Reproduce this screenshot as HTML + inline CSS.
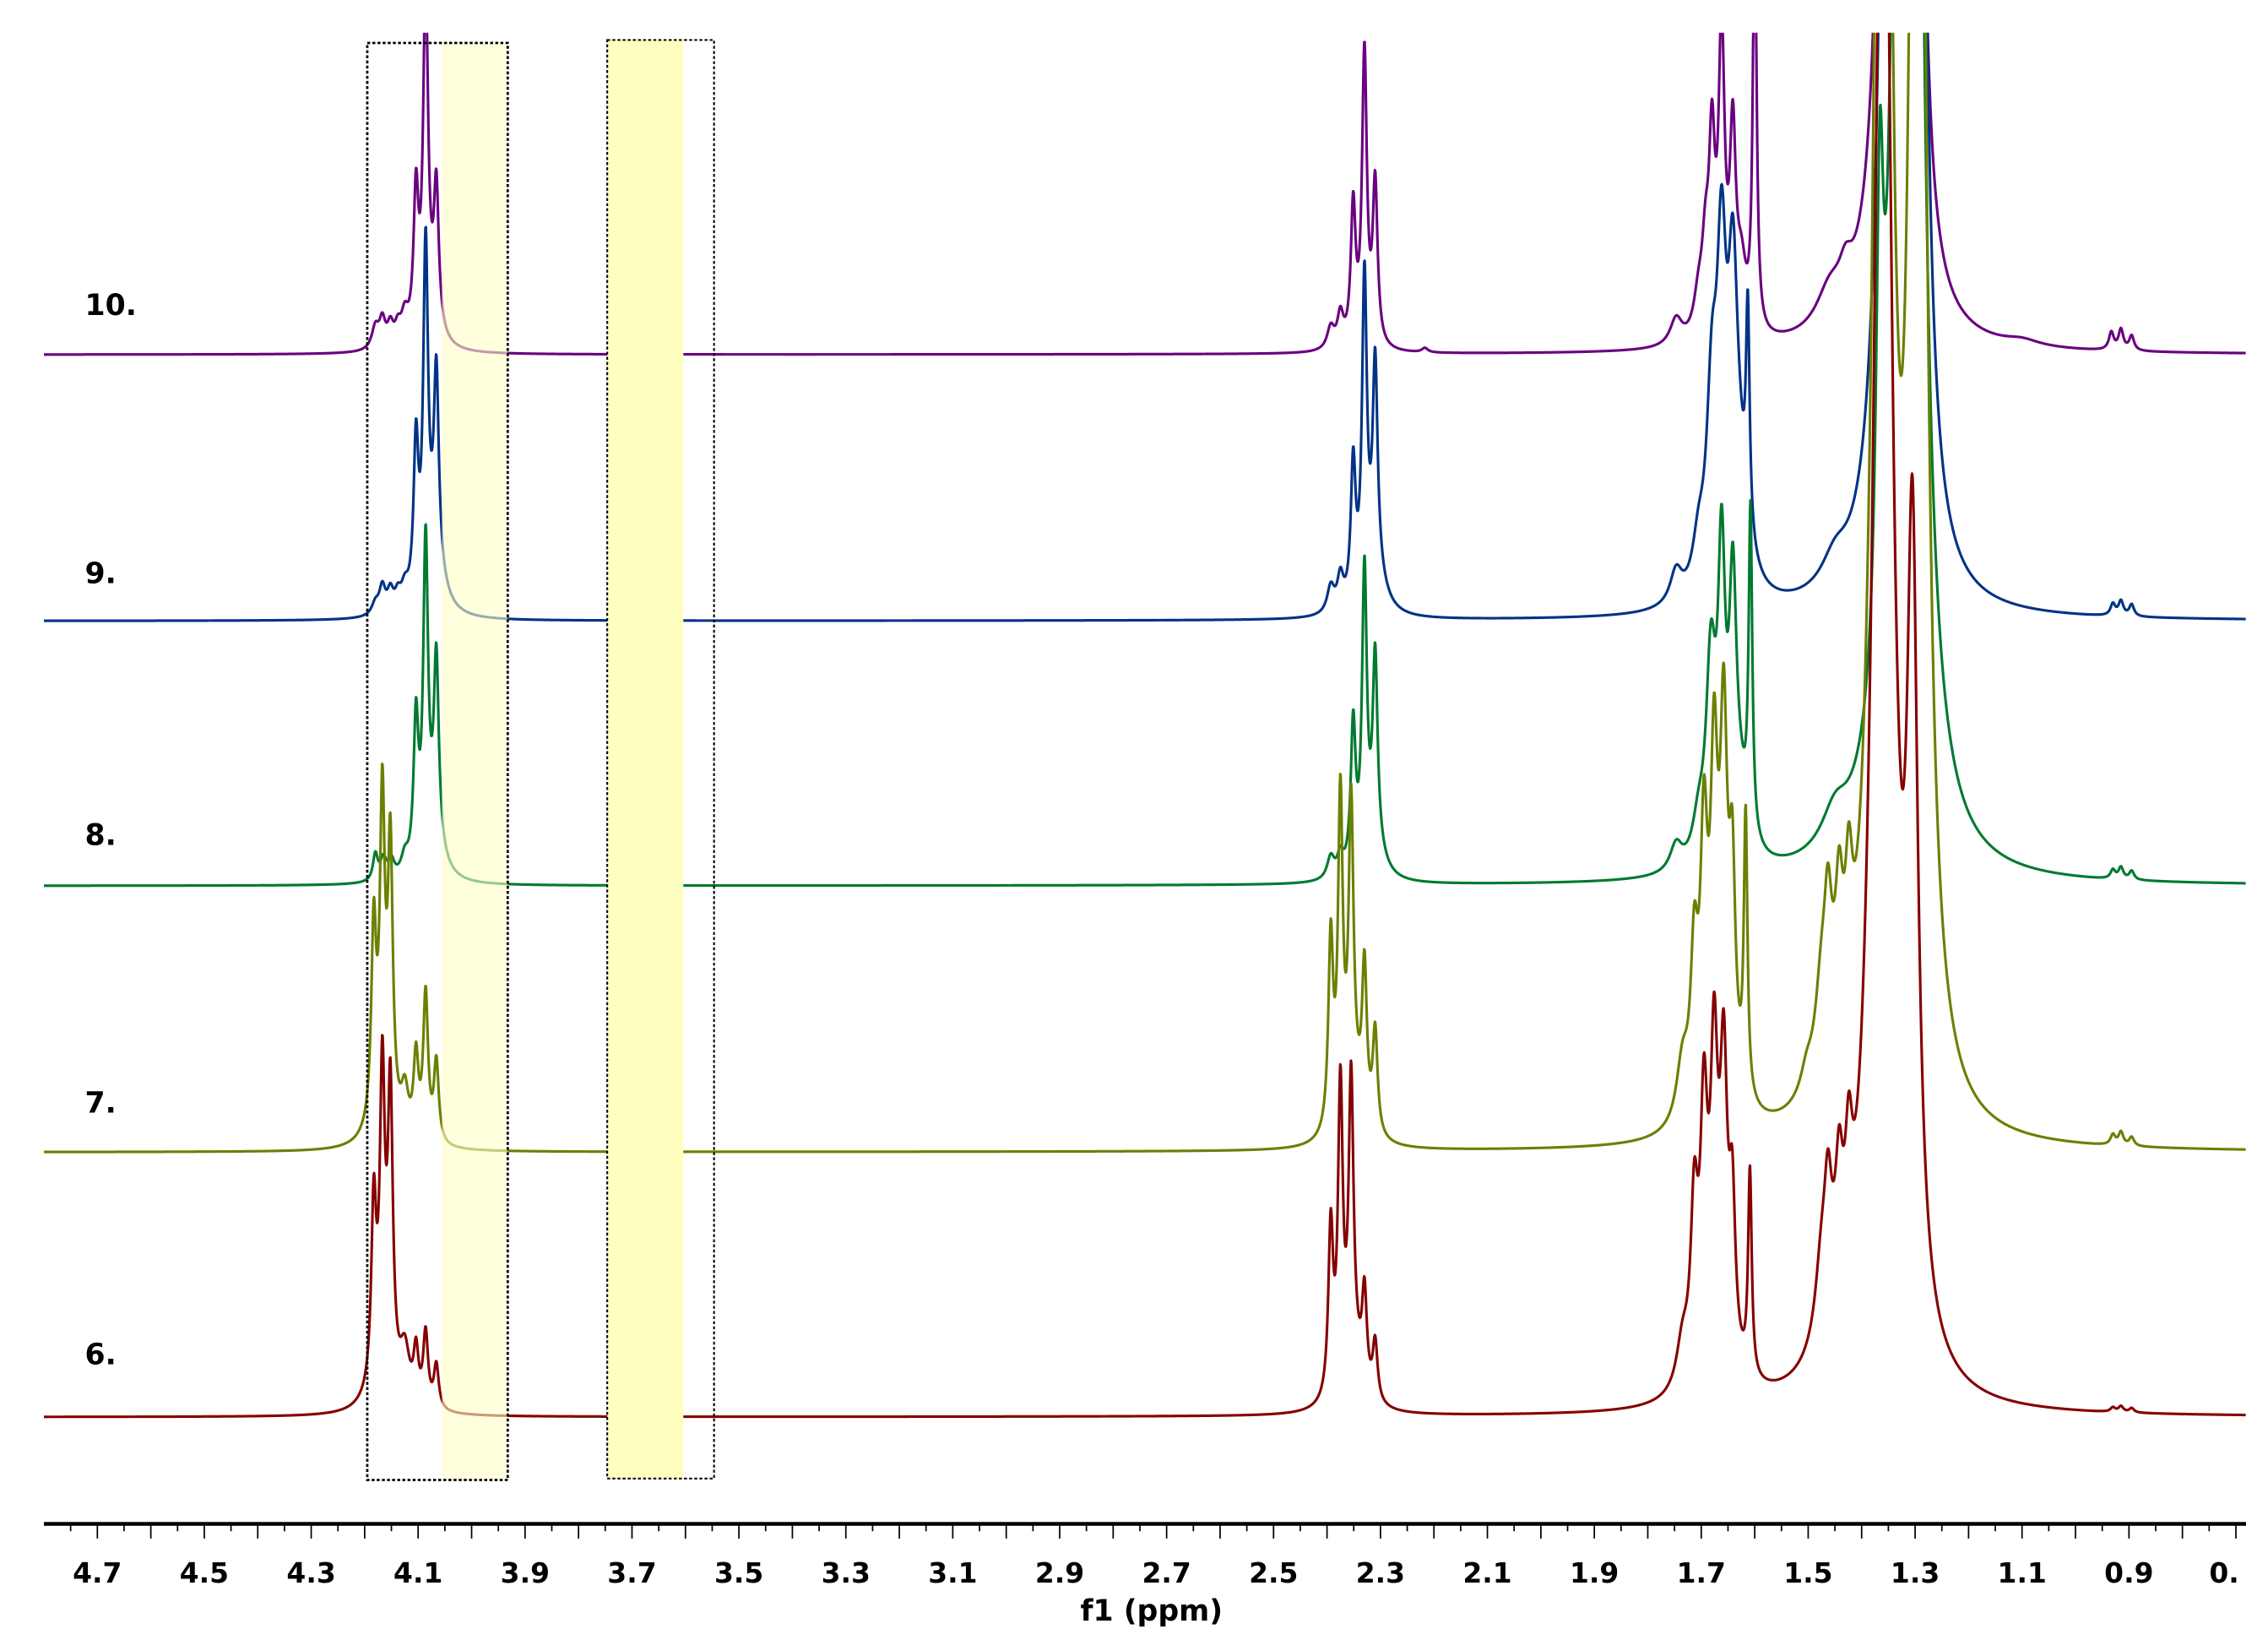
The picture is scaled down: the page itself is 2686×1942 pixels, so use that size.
<!DOCTYPE html>
<html><head><meta charset="utf-8"><style>
html,body{margin:0;padding:0;background:#fff;}
svg{display:block;}
text{font-family:"DejaVu Sans","Liberation Sans",sans-serif;font-weight:bold;}
</style></head><body>
<svg id="chart" width="2686" height="1942" viewBox="0 0 1550 1120" xmlns="http://www.w3.org/2000/svg">
<defs><clipPath id="plotclip"><rect x="30" y="22" width="1505" height="1010"/></clipPath></defs>
<g id="spectra" clip-path="url(#plotclip)"></g>
<rect x="302" y="29" width="45" height="982" fill="#ffffc8" opacity="0.6"/>
<rect x="415" y="27" width="52" height="983" fill="#ffffc0"/>
<rect x="251" y="29" width="96" height="982" fill="none" stroke="#000" stroke-width="1.6" stroke-dasharray="2 1.5"/>
<rect x="415" y="27" width="73" height="983" fill="none" stroke="#000" stroke-width="1.2" stroke-dasharray="2 1.5"/>
<g id="labels"></g>
<g id="axis"></g>
<text x="787" y="1107" font-size="20" text-anchor="middle">f1 (ppm)</text>
</svg>
<script>
// ---- data ----
const spectrumNames = ["10.", "9.", "8.", "7.", "6."];
const spectrumColors = ["#6a0080", "#003385", "#007a30", "#6b8000", "#850000"];
const baselines = [242, 424, 605, 787, 968];
const labelY = [215, 398, 577, 760, 932];
const tickLabels = ["4.7","4.5","4.3","4.1","3.9","3.7","3.5","3.3","3.1","2.9","2.7","2.5","2.3","2.1","1.9","1.7","1.5","1.3","1.1","0.9","0."];
const tickValues = [4.7,4.5,4.3,4.1,3.9,3.7,3.5,3.3,3.1,2.9,2.7,2.5,2.3,2.1,1.9,1.7,1.5,1.3,1.1,0.9,0.7];

const s10Centers = [4.18,4.167,4.152,4.138,4.125,4.104,4.086,4.066,4.08, 2.393,2.375,2.351,2.330,2.310,2.217, 1.747,1.705,1.692,1.680,1.662,1.641,1.625,1.600, 1.46,1.43,1.345,1.30, 1.10,0.933,0.915,0.895];
const s10Heights = [15,18,14,11,18,95,230,95,20, 15,22,95,200,110,3, 18,25,50,120,200,130,40,300, 25,20,1200,800, 4,12,14,10];
const s10Widths  = [.006,.005,.005,.005,.006,.004,.004,.004,.02, .006,.005,.004,.004,.004,.005, .01,.008,.006,.005,.005,.005,.008,.003, .03,.015,.015,.012, .04,.004,.004,.004];

const s9Centers = [4.18,4.167,4.152,4.138,4.125,4.104,4.086,4.066,4.07, 2.393,2.375,2.351,2.330,2.310,2.31, 1.747,1.705,1.68,1.662,1.641,1.613,1.63, 1.345,1.295,1.45, 0.93,0.915,0.895];
const s9Heights = [8,18,14,10,13,105,230,130,35, 18,22,95,215,140,30, 22,30,120,200,170,150,60, 1200,900,20, 8,10,8];
const s9Widths  = [.006,.005,.005,.005,.006,.004,.004,.004,.02, .006,.005,.004,.004,.004,.02, .01,.01,.012,.008,.008,.003,.02, .016,.014,.03, .004,.004,.004];

const s8Centers = [4.18,4.165,4.15,4.125,4.104,4.086,4.066,4.07, 2.393,2.375,2.351,2.330,2.310,2.31, 1.747,1.705,1.682,1.662,1.641,1.608,1.63, 1.366,1.32,1.305,1.45, 0.93,0.915,0.895];
const s8Heights = [18,14,12,12,100,215,125,25, 15,14,100,200,130,20, 18,25,130,190,160,220,40, 300,1500,1000,25, 6,8,6];
const s8Widths  = [.004,.005,.005,.006,.004,.004,.004,.02, .006,.005,.004,.004,.004,.02, .01,.01,.008,.006,.006,.003,.02, .006,.016,.016,.03, .004,.004,.004];

const s7Centers = [4.183,4.167,4.152,4.165,4.125,4.104,4.086,4.066, 2.393,2.375,2.355,2.330,2.310,2.35, 1.735,1.713,1.695,1.676,1.658,1.642,1.617,1.66, 1.503,1.475,1.463,1.442,1.424,1.455, 1.36,1.295, 0.93,0.915,0.895];
const s7Heights = [130,200,180,30,30,55,100,55, 130,220,200,105,70,30, 40,100,170,200,220,130,190,40, 15,50,70,75,80,40, 1500,1500, 7,9,6];
const s7Widths  = [.004,.004,.004,.02,.006,.004,.004,.004, .004,.004,.004,.004,.004,.02, .01,.006,.006,.006,.006,.005,.003,.03, .01,.01,.006,.006,.006,.03, .016,.014, .004,.004,.004];

const s6Centers = [4.183,4.167,4.152,4.165,4.125,4.104,4.086,4.066, 2.393,2.375,2.355,2.330,2.310,2.35, 1.735,1.713,1.695,1.676,1.658,1.642,1.609,1.67, 1.475,1.463,1.442,1.424,1.455, 1.36,1.305, 0.93,0.915,0.895];
const s6Heights = [120,190,190,35,35,35,50,30, 115,205,195,65,40,30, 30,110,160,180,180,100,140,40, 45,65,70,75,35, 1200,500, 3,4,3];
const s6Widths  = [.004,.004,.004,.02,.008,.004,.004,.004, .004,.004,.004,.004,.004,.02, .01,.006,.006,.006,.006,.005,.003,.03, .01,.006,.006,.006,.03, .02,.012, .004,.004,.004];

const allCenters = [s10Centers, s9Centers, s8Centers, s7Centers, s6Centers];
const allHeights = [s10Heights, s9Heights, s8Heights, s7Heights, s6Heights];
const allWidths  = [s10Widths, s9Widths, s8Widths, s7Widths, s6Widths];

// ---- axis functions ----
const PPM_LEFT = 4.80, PPM_RIGHT = 0.681, X_LEFT = 30, X_RIGHT = 1535;
const LINE_BROADENING = 1.35;
function xScale(p){ return X_LEFT + (PPM_LEFT - p) / (PPM_LEFT - PPM_RIGHT) * (X_RIGHT - X_LEFT); }
function intensity(p, cs, hs, ws){
  let s = 0;
  for (let i = 0; i < cs.length; i++){
    const d = p - cs[i];
    const w = ws[i] < 0.012 ? ws[i] * LINE_BROADENING : ws[i];
    s += hs[i] * w * w / (d * d + w * w);
  }
  return s;
}
const NS = "http://www.w3.org/2000/svg";
const g = document.getElementById("spectra");
for (let k = 0; k < spectrumNames.length; k++){
  let d = "";
  for (let p = PPM_LEFT; p >= PPM_RIGHT; p -= 0.0008){
    const y = baselines[k] - intensity(p, allCenters[k], allHeights[k], allWidths[k]);
    d += (d ? "L" : "M") + xScale(p).toFixed(2) + "," + Math.max(y, 10).toFixed(2);
  }
  const path = document.createElementNS(NS, "path");
  path.setAttribute("d", d);
  path.setAttribute("fill", "none");
  path.setAttribute("stroke", spectrumColors[k]);
  path.setAttribute("stroke-width", "1.8");
  path.setAttribute("stroke-linejoin", "round");
  
  
  g.appendChild(path);
}
const lg = document.getElementById("labels");
for (let k = 0; k < spectrumNames.length; k++){
  const t = document.createElementNS(NS, "text");
  t.setAttribute("x", 58);
  t.setAttribute("y", labelY[k]);
  t.setAttribute("font-size", "20");
  t.textContent = spectrumNames[k];
  
  
  lg.appendChild(t);
}
const ax = document.getElementById("axis");
const line = document.createElementNS(NS, "line");
line.setAttribute("x1", X_LEFT); line.setAttribute("x2", X_RIGHT);
line.setAttribute("y1", 1041); line.setAttribute("y2", 1041);
line.setAttribute("stroke", "#000"); line.setAttribute("stroke-width", "2.6");


ax.appendChild(line);
for (let i = 0; i <= 82; i++){
  const p = 4.75 - i * 0.05;
  if (p < PPM_RIGHT - 1e-6) break;
  const major = Math.abs(Math.round(p * 10) - p * 10) < 1e-6;
  const tk = document.createElementNS(NS, "line");
  const x = xScale(p);
  tk.setAttribute("x1", x); tk.setAttribute("x2", x);
  tk.setAttribute("y1", 1042); tk.setAttribute("y2", major ? 1051 : 1046);
  tk.setAttribute("stroke", "#000"); tk.setAttribute("stroke-width", "1");
  
  
  ax.appendChild(tk);
}
for (let i = 0; i < tickLabels.length; i++){
  const t = document.createElementNS(NS, "text");
  const x = xScale(tickValues[i]);
  t.setAttribute("x", i === tickLabels.length - 1 ? x - 8 : x);
  t.setAttribute("y", 1081);
  t.setAttribute("font-size", "19");
  t.setAttribute("text-anchor", "middle");
  t.textContent = tickLabels[i];
  
  
  ax.appendChild(t);
}
</script>
</body></html>
